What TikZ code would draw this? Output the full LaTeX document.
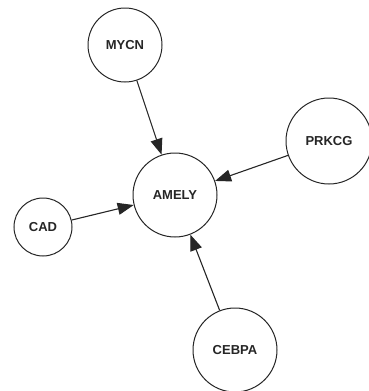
\documentclass[tikz,border=0pt]{standalone}
\usepackage{fontspec}
\setmainfont{Liberation Sans}
\usetikzlibrary{arrows.meta}
\begin{document}
\begin{tikzpicture}[x=1pt,y=-1pt,
  gene/.style={circle,draw=black!85,line width=1pt,fill=white,inner sep=0pt,font=\bfseries\fontsize{13}{15}\selectfont,text=black!85},
  link/.style={line width=1.1pt,draw=black!85,-{Triangle[length=16pt,width=12pt]}}]
\useasboundingbox (0,0) rectangle (368,391);
\node[gene,minimum size=84pt] (amely) at (175,195) {AMELY};
\node[gene,minimum size=74pt] (mycn) at (125,45) {MYCN};
\node[gene,minimum size=86pt] (prkcg) at (329,141) {PRKCG};
\node[gene,minimum size=58pt] (cad) at (43,227) {CAD};
\node[gene,minimum size=84pt] (cebpa) at (235,350) {CEBPA};
\draw[link] (mycn) -- (amely);
\draw[link] (prkcg) -- (amely);
\draw[link] (cad) -- (amely);
\draw[link] (cebpa) -- (amely);
\end{tikzpicture}
\end{document}
